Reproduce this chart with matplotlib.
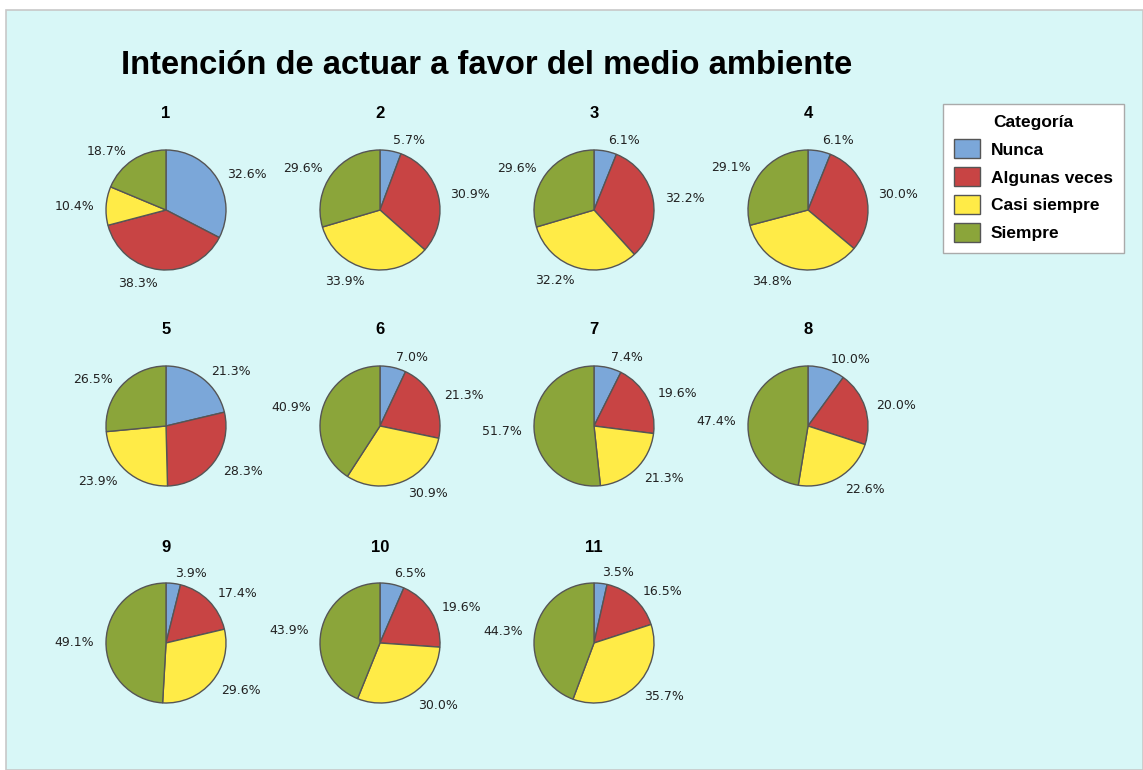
import matplotlib
matplotlib.use("Agg")
import matplotlib.pyplot as plt
from matplotlib.patches import Rectangle, Patch

categorias = ["Nunca", "Algunas veces", "Casi siempre", "Siempre"]
colores = ["#7ba7d9", "#c84444", "#ffeb47", "#8ba53a"]

nombres = ["1", "2", "3", "4", "5", "6", "7", "8", "9", "10", "11"]
nunca = [32.6, 5.7, 6.1, 6.1, 21.3, 7.0, 7.4, 10.0, 3.9, 6.5, 3.5]
algunas = [38.3, 30.9, 32.2, 30.0, 28.3, 21.3, 19.6, 20.0, 17.4, 19.6, 16.5]
casi = [10.4, 33.9, 32.2, 34.8, 23.9, 30.9, 21.3, 22.6, 29.6, 30.0, 35.7]
siempre = [18.7, 29.6, 29.6, 29.1, 26.5, 40.9, 51.7, 47.4, 49.1, 43.9, 44.3]

W, H = 1143, 770
fig = plt.figure(figsize=(W / 100, H / 100), dpi=100)
fig.patch.set_facecolor("white")

# fondo cian con borde gris
fig.patches.append(Rectangle((6 / W, 0), 1 - 6 / W, 1 - 10 / H, transform=fig.transFigure,
                             facecolor="#d8f7f7", edgecolor="#c8c8c8", linewidth=1.2, zorder=-1))

fig.text(487 / W, 1 - 66 / H, "Intención de actuar a favor del medio ambiente",
         ha="center", va="center", fontsize=23.6, fontweight="bold", family="Liberation Sans")

cx = [166, 380, 594, 808]
cy = [210, 426, 643]
radio = 60
lim = 1.7
lado = 2 * lim * radio

for i, nombre in enumerate(nombres):
    fila, col = divmod(i, 4)
    x0 = cx[col] - lado / 2
    y0 = H - cy[fila] - lado / 2
    ax = fig.add_axes([x0 / W, y0 / H, lado / W, lado / H])
    valores = [nunca[i], algunas[i], casi[i], siempre[i]]
    ax.pie(valores, colors=colores, startangle=90, counterclock=False,
           labels=[f"{v:.1f}%" for v in valores], labeldistance=1.2,
           textprops={"fontsize": 9, "color": "#222222", "va": "center_baseline"},
           wedgeprops={"edgecolor": "#555555", "linewidth": 1.0})
    ax.set_xlim(-lim, lim)
    ax.set_ylim(-lim, lim)
    ax.set_aspect("equal")
    ax.axis("off")
    fig.text(cx[col] / W, 1 - (cy[fila] - 96) / H, nombre, ha="center", va="center",
             fontsize=12, fontweight="bold", family="Liberation Sans")

handles = [Patch(facecolor=c, edgecolor="#555555", label=n) for c, n in zip(colores, categorias)]
leg = fig.legend(handles=handles, title="Categoría", loc="upper left",
                 bbox_to_anchor=(943 / W, 1 - 104 / H), borderaxespad=0,
                 frameon=True, fancybox=False, framealpha=1, facecolor="white",
                 prop={"family": "Liberation Sans", "weight": "bold", "size": 12.5},
                 title_fontproperties={"family": "Liberation Sans", "weight": "bold", "size": 12.5},
                 handlelength=1.5, handleheight=1.3, handletextpad=0.6, labelspacing=0.52,
                 borderpad=0.65)
leg.get_frame().set_edgecolor("#aaaaaa")
leg.get_frame().set_linewidth(1.0)

fig.savefig("out.png", dpi=100, facecolor=fig.get_facecolor())
